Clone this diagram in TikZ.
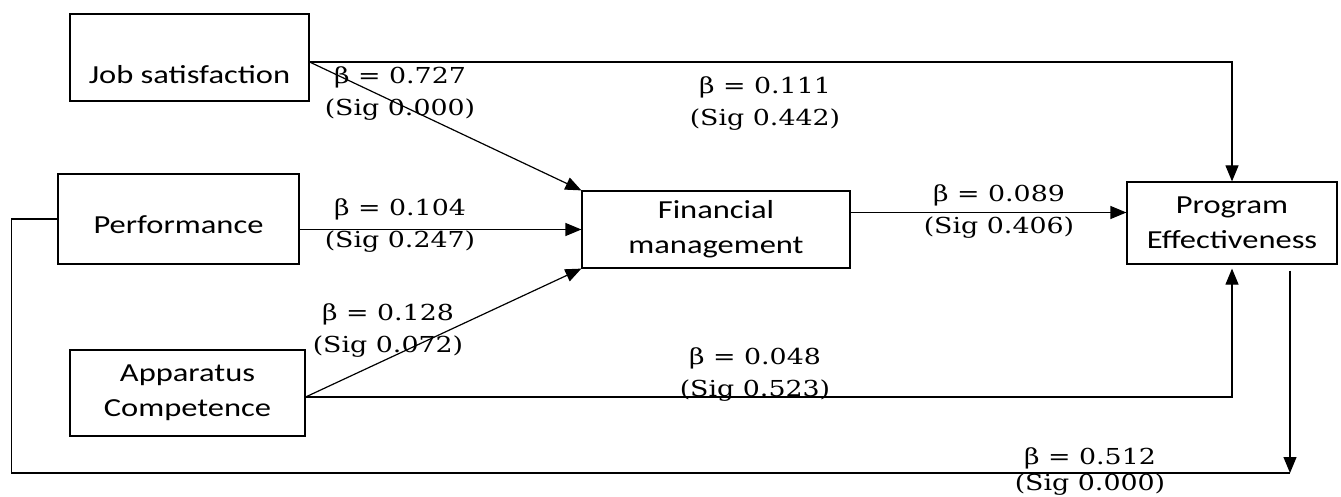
\documentclass[tikz,border=0pt]{standalone}
\usepackage{fontspec}
\newfontfamily\boxfont[FakeStretch=1.25]{Carlito}
\newfontfamily\coeffont[FakeStretch=1.22]{DejaVu Serif}
\usetikzlibrary{arrows.meta}

\begin{document}
\begin{tikzpicture}[x=1pt, y=-1pt, line width=1.2pt,
	var/.style={draw, rectangle, align=center, inner sep=0pt, font=\boxfont\fontsize{26}{35}\selectfont},
	coef/.style={align=center, inner sep=0pt, font=\coeffont\fontsize{22}{32}\selectfont},
	>={Triangle[length=16pt, width=13pt]}]
	
	\useasboundingbox (0, 0) rectangle (1341, 497);
	
	% variables
	\node[var, minimum width=239pt, minimum height=87pt] (jobsat) at (189.5, 57.5) {\raisebox{-17pt}[\height][\depth]{Job satisfaction}};
	\node[var, minimum width=241pt, minimum height=90pt] (perf) at (178.5, 219) {\raisebox{-6pt}[\height][\depth]{Performance}};
	\node[var, minimum width=235pt, minimum height=86pt] (app) at (187.5, 393) {Apparatus\\Competence};
	\node[var, minimum width=268pt, minimum height=77pt] (fin) at (716, 229.5) {Financial\\management};
	\node[var, minimum width=210pt, minimum height=82pt] (pe) at (1232, 223) {Program\\Effectiveness};
	
	% paths to financial management
	\draw[->] ([yshift=-4.5pt]jobsat.east) -- (fin.north west);
	\draw[->] (perf.east |- fin.west) -- (fin.west);
	\draw[->] ([yshift=-4pt]app.east) -- (fin.south west);
	
	% paths to program effectiveness
	\draw[->] ([yshift=-4.5pt]jobsat.east) -| (pe.north);
	\coordinate (finout) at ([yshift=17pt]fin.east);
	\draw[->] (finout) -- (finout -| pe.west);
	\draw[->] ([yshift=-4pt]app.east) -| ([yshift=-4pt]pe.south);
	
	% performance round the bottom
	\coordinate (botc) at (1290, 473);
	\coordinate (peout) at (pe.south -| botc);
	\draw (perf.west) -- ++(-46, 0) |- (botc);
	\draw[->] ([yshift=-6pt]peout) -- (botc);
	
	% coefficients
	\node[coef] (c1) at (400, 94) {β = 0.727\\(Sig 0.000)};
	\node[coef] (c2) at (765, 104) {β = 0.111\\(Sig 0.442)};
	\node[coef] (c3) at (400, 226) {β = 0.104\\(Sig 0.247)};
	\node[coef] (c4) at (999, 212) {β = 0.089\\(Sig 0.406)};
	\node[coef] (c5) at (388, 331) {β = 0.128\\(Sig 0.072)};
	\node[coef] (c6) at (755, 375) {β = 0.048\\(Sig 0.523)};
	\node[coef] (c7) at (1090, 472) {β = 0.512\\[-6pt](Sig 0.000)};
	
\end{tikzpicture}
\end{document}
